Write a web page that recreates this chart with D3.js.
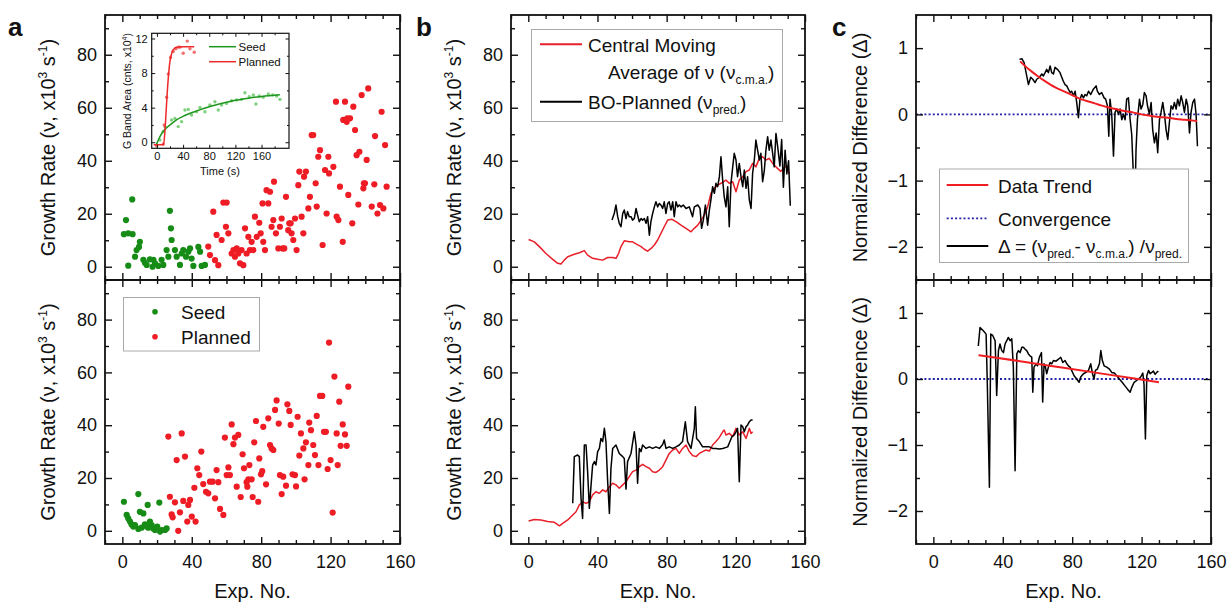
<!DOCTYPE html>
<html><head><meta charset="utf-8">
<script src="https://cdn.jsdelivr.net/npm/d3@7"></script>
<style>body{margin:0;background:#fff}svg{font-family:"Liberation Sans",Arial,sans-serif}</style>
</head><body>
<svg id="chart" width="1229" height="605"></svg>
<script>
// ---------------- DATA ----------------
const xTicks = [0, 40, 80, 120, 160];
const xMinor = [-10, 10, 20, 30, 50, 60, 70, 90, 100, 110, 130, 140, 150];
const growthTicks = [0, 20, 40, 60, 80];
const growthMinor = [10, 30, 50, 70, 90];
const deltaTicks = [-2, -1, 0, 1];
const deltaMinor = [-1.5, -0.5, 0.5];
const insetXTicks = [0, 40, 80, 120, 160];
const insetXMinor = [20, 60, 100, 140, 180];
const insetYTicks = [0, 4, 8, 12];
const insetYMinor = [2, 6, 10];

// panel a (top): growth rates, seed vs planned
const aTopSeed = [[5.7,25.4],[2.1,17.6],[0.9,12.3],[3.4,12.6],[5.9,12.3],[3.4,0.4],[10.1,9.4],[9.6,7.5],[7.3,3.8],[8.2,6.3],[12.1,2.6],[14,0.7],[15.9,2.8],[17.4,0],[18.8,1.3],[20.7,0.3],[22.6,2.6],[23.6,0.7],[25.5,6.3],[26.5,3.8],[27.4,21.1],[28,14.5],[28.4,10.1],[30.3,6.3],[31.3,3.8],[33.2,0.7],[34.2,5],[35.1,6.3],[36.7,3.8],[38,5.7],[39,6.9],[39.9,3.1],[40.9,0.3],[43.8,7.5],[44.8,5.7],[45.7,0.3],[47.6,0.7],[17.9,2.6],[13,1.5]];
const aTopPlanned = [[49.5,7.6],[50.5,4.4],[52.4,20.8],[53.4,2.5],[54.3,12],[55.3,0.6],[57.2,10.1],[58.2,24.2],[60.1,24.2],[59.7,15.1],[61.1,12.6],[63,5],[64,6.3],[64.9,3.8],[65.9,6.9],[66.8,5],[67.8,1.3],[68.7,6.3],[69.7,0.6],[70.7,14.5],[71.6,5],[72.6,11.3],[73.5,6.3],[74.5,9.4],[75.5,6.3],[76.4,18.9],[77.4,11.3],[78.9,16.6],[79.7,12.6],[80.8,23.9],[81.2,9.4],[82.2,6.3],[83.1,28.9],[84.1,23.9],[85.1,28.3],[86,15.1],[87,17.6],[87.4,32.1],[88.5,12.6],[89.9,6.9],[90.8,15.1],[91.8,18.2],[92.4,6.9],[93.3,6.9],[94.3,26.4],[95.6,13.8],[96.2,16.4],[97,16.4],[97.5,12.6],[98.5,10.1],[99.5,18.2],[100.4,6.3],[101.4,30.8],[102,35.9],[103.3,18.9],[104.3,12.6],[104.7,34],[105.8,35.9],[107.2,22],[108.1,26.4],[109.1,49.7],[110,49.7],[111.4,31.5],[112,22.7],[112.9,41.5],[113.9,44],[115.4,8.2],[116.8,36.5],[117.7,20.1],[118.7,41.5],[119.1,35.2],[121.6,37.7],[123.1,62.3],[123.5,18.9],[124.5,17.6],[125.4,30.2],[127,9.4],[127.3,55.4],[128.3,62.3],[129.3,54.7],[129.6,56],[130.2,27.1],[131.2,56],[132.5,16.4],[133.1,60.4],[134.1,51.6],[135,42.1],[136,23.5],[136.6,43.4],[137.9,64.8],[138.9,29.6],[139.2,31.5],[139.8,31.5],[140.8,40.3],[141.7,67.3],[143.7,22.7],[145.2,31.1],[145.6,49.3],[147,20.1],[148.5,23.3],[149.4,58.5],[150.4,22],[151.4,45.9],[152.3,30.2]];

// panel a (bottom)
const aBotSeed = [[0.9,11],[9.2,13.9],[14.6,9.8],[21.3,10.7],[10.1,7.2],[12.1,6.6],[2.5,6],[3.4,4.7],[4.4,3.5],[5.3,2.4],[6.3,1.6],[7.3,2.2],[9.2,0.7],[11.1,1.2],[13,2.4],[14,1.6],[15.9,3.5],[16.9,2.2],[17.8,0.9],[18.8,0.3],[20.1,1.6],[21.7,-0.3],[22.6,0.3],[24.6,0.3],[25.5,0.9],[15,1.2]];
const aBotPlanned = [[26.5,35.7],[34.2,36.9],[31.3,26.8],[36.1,28.1],[27.4,12.9],[30.3,10.8],[28.4,6.2],[29,5.1],[33.2,7],[35.1,11.3],[37.4,3.5],[38,9.8],[39,11.7],[40,5.4],[42.2,3.5],[32.2,0],[41.5,16.3],[43.2,23.7],[44.3,21.1],[45.5,30],[46.6,17.7],[48.2,14.8],[49.5,14.2],[50.5,18.6],[52,18.6],[53.4,12.3],[54.3,23],[55.3,18.4],[56.3,8.3],[58.2,6],[59.1,35.3],[60.1,21.1],[61.1,24],[62,21.1],[63,40.3],[64,32.8],[64.9,35.3],[66.8,36.3],[65.9,16.7],[68.2,12.8],[69.3,29],[70.1,23.7],[71.6,18.4],[72,16.7],[72.6,19.5],[73.2,24.9],[74.5,19.5],[75.1,12.8],[76,33.5],[77,41.6],[78.3,11],[78.9,27.4],[79.9,21.4],[80.6,22.6],[81.2,39.4],[82.8,17.6],[84.1,42.6],[85.1,32.5],[86,31.2],[87,30.6],[88,45.8],[88.9,49.4],[90.1,40.6],[90.8,21.1],[91.8,13.9],[92.7,20.5],[94.3,17.1],[95.1,47.9],[96.2,45.4],[97,40.1],[98.1,21.4],[99.5,21.1],[100.1,16.8],[101,43.2],[102,28.5],[102.9,36.9],[104.3,31.2],[105,19.5],[105.8,33.5],[107.2,24.9],[107.7,41],[108.7,38.1],[110,32.5],[111,28.7],[112,43.5],[113,24.9],[113.9,51.1],[115.2,51.1],[116.2,37.5],[117.3,37.5],[118.3,23.4],[119.1,71.3],[120,26.8],[121.2,6.9],[122.2,58.4],[123.5,36.9],[124.1,24.9],[125,48.9],[125.8,32.2],[127,40.3],[128.3,36.5],[129.3,32.2],[130.2,54.6]];

// inset: G band area vs time
const insetSeedPts = [[-0.5,-0.31],[4.6,0.27],[9.7,1.23],[12.2,1.81],[22.4,2.57],[27.5,2.76],[32.6,1.81],[37.7,2.38],[42.8,3.73],[47.9,3.8],[53,3.15],[60.6,3.53],[65.7,4.03],[73.4,3.53],[81,4.3],[88.7,4.69],[93.8,3.73],[98.9,4.3],[106.5,4.49],[114.2,4.8],[121.8,4.88],[129.5,4.96],[134.6,5.73],[141.2,5.27],[147.4,5.46],[151.4,4.42],[156.5,5.34],[162.6,5.19],[170.3,5.58],[176.9,5.46],[183.1,5.34],[188.2,4.96]];
const insetSeedFit = [[-1,-0.3],[5,0.7],[10,1.3],[20,2.0],[30,2.6],[40,3.0],[60,3.6],[80,4.1],[100,4.5],[120,4.85],[140,5.1],[160,5.3],[188,5.5]];
const insetPlannedPts = [[-0.5,-0.4],[9.7,-0.2],[11.2,2.0],[14.8,5.2],[17.3,7.9],[20.9,9.8],[25,10.5],[29,10.8],[32.6,11],[35.2,11],[40.2,10.3],[46.4,11.7],[50.5,10.8],[57.1,10.4]];
const insetPlannedFit = [[-5,-0.3],[10,-0.3],[12,1.0],[14,3.5],[16,6.0],[18,8.0],[20,9.4],[23,10.4],[26,10.8],[30,11.0],[40,11.05],[57,11.05]];

// panel b (top)
const bTopCma = [[0.2,10.3],[3.5,9.4],[6.4,7.6],[10.2,5],[14.1,2.8],[17,1.3],[18.9,1],[20.8,2.5],[22.8,3.8],[26.6,4.7],[29.5,5.3],[32.4,6.1],[34.3,4.4],[37.2,3.2],[40.1,2.8],[43,2.5],[45.9,3.5],[48.8,3.5],[50.7,3.2],[52.2,5],[53.6,7.6],[55.5,9.8],[58.4,9.4],[60.3,9.4],[62.3,8.6],[65.2,7.6],[67.1,6.6],[69,5.9],[71,6.9],[72.9,8.2],[74.8,10.1],[76.7,12.6],[78.6,15.1],[80.6,17.6],[83.1,17.9],[85.4,17],[88.3,15.7],[91.2,14.5],[94.1,13.2],[96,14.5],[98,15.7],[99.9,17.6],[101.8,19.5],[103.7,22.6],[105.6,27.7],[107.6,29.6],[109.5,30.8],[111.4,31.5],[114.3,32.7],[116.2,31.5],[118.2,32.1],[120.1,28.3],[122,32.7],[124,34],[125.9,35.9],[127.8,36.5],[129.7,39],[131.6,37.7],[133.6,40.9],[135.5,41.5],[137.4,40.3],[139.3,40.9],[141.3,39],[143.2,37.7],[146,36],[149,38],[151,35]];
const bTopPred = [[48.4,17.6],[49.7,20.1],[50.7,23.3],[51.7,18.9],[52.6,16.4],[53.6,15.1],[54.6,20.1],[55.5,21.4],[56.5,18.2],[57.4,20.8],[58.4,18.9],[59.4,18.9],[60.3,17.6],[61.3,18.2],[62.3,22],[63.2,19.5],[64.2,17],[65.2,18.2],[66.1,17.6],[67.1,18.2],[68.1,16.4],[69,18.9],[70,11.9],[70.9,17],[71.9,20.1],[72.9,22.6],[73.8,24.5],[74.8,22.6],[75.8,23.9],[76.7,23.3],[77.7,22],[78.6,24.5],[79.6,20.1],[80.6,23.9],[81.5,24.5],[82.5,21.4],[83.5,24.5],[84.4,18.9],[85.4,24.5],[86.4,22.6],[87.3,23.3],[88.3,22.6],[89.6,23.3],[91.2,22],[93.1,22.6],[95,18.9],[96,22.6],[98,23.3],[99.3,22],[100.2,14.5],[101.2,17.6],[102.4,23.3],[103.7,15.7],[104.7,21.4],[105.6,25.2],[106.6,30.2],[107.6,27.7],[108.5,31.5],[109.5,30.2],[110.5,34],[111.4,41.5],[112.4,32.7],[113.3,26.4],[114.3,22.6],[115.3,30.2],[116.2,15.1],[117.2,31.5],[118.2,37.7],[119.1,42.8],[120.1,40.3],[121,34],[122,39],[123,34],[124,30.2],[124.9,36.5],[125.9,29.6],[126.8,34],[127.8,25.2],[128.8,22],[129.7,35.2],[130.7,40.3],[131.6,47.8],[132.6,44],[133.6,40.3],[134.5,42.8],[135.5,32.1],[136.5,36.5],[137.4,44],[138.4,49.1],[139.3,44],[140.3,47.8],[141.3,42.8],[142.2,37.7],[143.2,50.3],[144.2,45.3],[145.5,38],[146.5,48],[147.5,30],[148.5,44],[149.5,35],[150.5,40],[151.5,23]];

// panel b (bottom)
const bBotCma = [[0.2,3.7],[3.5,4.3],[7.3,4.1],[11.2,3.5],[15.1,3.2],[18,1.9],[19.9,2.8],[22.8,4.1],[25.7,6],[27.6,7.2],[29.5,9.8],[31.4,11],[33.4,10.4],[35.3,11],[37.2,13.6],[39.1,14.8],[41.1,14.2],[43,15.5],[44.9,14.8],[46.9,16.7],[48.8,18],[50.7,17.4],[52.6,16.1],[54.6,17.4],[56.5,18.6],[58.4,20.5],[60.3,22.4],[62.3,23],[64.2,24.3],[66.1,25.2],[68.1,24.3],[70,23.7],[71.9,22.4],[73.8,22.1],[75.8,23],[77.7,24.3],[79.6,26.8],[81.5,29.3],[83.5,30.6],[85.4,31.2],[87.3,29.3],[89.2,31.2],[91.2,32.5],[93.1,30],[95,28.5],[97,28.1],[98.9,29.3],[100.8,30],[102.7,30.6],[104.7,30.2],[106.6,32.5],[108.5,33.8],[110.4,35.3],[112.4,37.5],[113.3,38.2],[114.3,36.3],[116.2,36.9],[118.2,35.7],[120.1,38.8],[122,36.3],[124,37.5],[125.9,35],[127.8,38.8],[128.8,36.9],[129.7,37.5]];
const bBotPred = [[25.7,10.4],[26.6,28.1],[28.5,28.7],[29.5,28.1],[30.5,12.3],[31.4,4.7],[32.4,32.5],[33.4,32.5],[34.3,22.4],[35.3,8.5],[36.3,17.4],[37.2,24.9],[38.2,26.2],[39.1,24.9],[40.1,30],[41.1,31.2],[42,35],[43,33.8],[44,38.8],[44.9,33.8],[45.9,18.6],[46.9,6.6],[47.8,23.7],[48.8,31.2],[50.7,32.5],[52.6,29.3],[54.6,28.1],[55.5,27.4],[56.5,15.8],[57.4,26.2],[59.4,29.3],[61.3,37.5],[62.3,32.5],[63.2,18],[64.2,31.2],[65.2,30],[66.1,32.5],[68.1,31.2],[70,31.8],[71.9,31.2],[73.8,31.8],[75.8,31.2],[77.7,32.7],[78.6,34.4],[79.6,31.2],[81.5,31.8],[83.5,31.2],[85.4,31.8],[87.3,32.5],[89.2,33.8],[90.8,41.3],[92.1,33.8],[94.1,31.2],[96,38.8],[96.6,47],[97.3,35],[98.9,33.8],[100.8,31.8],[102.7,31.8],[104.7,31.8],[106.6,31.2],[108.5,31.2],[110.4,31],[112.4,31.2],[115.3,31.8],[116.6,33.8],[117.8,35.7],[119.1,36.3],[120.1,37.5],[121,38.8],[122,18.6],[123,40.1],[124,39.4],[124.9,37.5],[125.9,39.4],[126.8,40.1],[127.8,41.3],[128.8,42],[129.7,42]];

// panel c (top): normalized difference
const cTopDelta = [[49.6,0.83],[51,0.84],[52.3,0.78],[53.8,0.58],[54.8,0.45],[56.1,0.56],[57.3,0.53],[58.6,0.48],[59.6,0.53],[61.1,0.56],[62.5,0.61],[63.4,0.58],[64.4,0.63],[65.3,0.68],[66.3,0.63],[67.3,0.73],[68.2,0.63],[69.2,0.61],[70.1,0.71],[71.5,0.68],[73,0.63],[74,0.56],[74.9,0.5],[75.9,0.45],[76.9,0.43],[77.8,0.38],[78.8,0.33],[79.7,0.35],[80.7,0.28],[81.7,0.35],[82.6,0.18],[83.6,-0.05],[84.5,0.23],[85.5,0.3],[86.5,0.25],[87.4,0.3],[88.4,0.28],[89.4,0.35],[90.7,0.3],[92.2,0.38],[93.8,0.43],[94.5,0.35],[95.7,0.3],[97,0.33],[98.4,0.25],[99.3,0.23],[100.3,0.13],[101.1,-0.33],[101.8,0.23],[102.8,0],[103.8,-0.63],[104.7,0.03],[105.7,0.08],[106.7,0],[107.6,0.08],[108.6,-0.08],[109.5,0],[110.5,-0.08],[111.4,0.23],[112.4,0.25],[113.4,-0.08],[114.3,-0.3],[115.3,-0.93],[116.3,-1.14],[116.8,-0.53],[117.6,-0.08],[118.8,0.23],[119.7,0.08],[120.7,0.15],[121.6,0.33],[122.6,0.28],[123.4,0.13],[124.5,0],[125.5,0.18],[126.4,-0.23],[127.4,-0.43],[128.4,-0.28],[129.3,-0.58],[130.3,-0.08],[131.2,0.03],[132.2,0.18],[133.2,0],[134.1,-0.23],[135.1,-0.38],[136,-0.13],[137,0.13],[138,0.08],[138.9,0.18],[139.9,0.08],[140.8,0.23],[141.8,0.13],[142.8,0.28],[143.7,0.18],[144.7,0.03],[145.7,0.23],[146.6,0.13],[147.6,-0.28],[148.5,0.03],[149.5,0.18],[150.5,0.23],[151.4,0],[152.2,-0.48]];
const cTopTrend = [[50,0.8],[55,0.68],[60,0.58],[65,0.49],[70,0.41],[75,0.35],[80,0.29],[85,0.23],[90,0.19],[95,0.15],[100,0.11],[105,0.08],[110,0.05],[115,0.03],[120,0],[125,-0.02],[130,-0.04],[135,-0.05],[140,-0.07],[145,-0.08],[152,-0.1]];

// panel c (bottom)
const cBotDelta = [[25.9,0.5],[26.9,0.78],[28.8,0.73],[30.4,0.68],[31.1,-0.08],[32.3,-1.64],[33.1,0.68],[34.2,0.66],[35.6,0.58],[36.5,-0.25],[37.5,0.43],[38.4,0.53],[39.4,0.43],[40.4,0.4],[41.3,0.53],[42.3,0.58],[43.2,0.63],[44.2,0.58],[45.2,0.61],[46.1,0.18],[47.1,-1.39],[48.1,0.38],[49,0.43],[50,0.4],[51,0.48],[51.9,0.48],[52.9,0.45],[53.8,0.43],[54.8,0.38],[55.7,0.35],[56.7,0.33],[57.3,-0.2],[58,0.18],[59.2,0.23],[60,0.2],[61.1,0.33],[62.3,0.4],[63,-0.35],[63.8,0.23],[64.6,0.18],[65.3,0.08],[66.3,0.18],[67.3,0.25],[68.2,0.23],[69.2,0.28],[70.7,0.27],[72.1,0.3],[73.4,0.33],[74.6,0.25],[75.9,0.28],[76.9,0.23],[77.8,0.2],[78.8,0.18],[79.7,0.13],[81.1,0.05],[82.6,0],[84,-0.05],[84.9,0.03],[86.5,0.08],[88,0.1],[89.4,0.13],[90.7,0.23],[91.7,0.08],[92.6,0],[93.4,0.13],[94.5,0.15],[95.7,0.23],[96.5,0.43],[97.4,0.28],[98.4,0.2],[99.9,0.18],[101.5,0.15],[102.8,0.1],[104.3,0.09],[105.7,0.05],[107.2,0],[108.8,-0.05],[110.3,-0.1],[111.8,-0.15],[113.4,-0.2],[114.3,-0.13],[115.7,-0.05],[116.8,-0.03],[118.2,0],[119.5,0.03],[120.7,0.09],[121.4,-0.08],[122.2,-0.91],[123,0.05],[124,0.13],[124.9,0.08],[125.9,0.1],[126.8,0.12],[127.8,0.07],[128.7,0.1],[129.7,0.12]];
const cBotTrend = [[26,0.36],[50,0.27],[75,0.17],[100,0.07],[130,-0.05]];
const convergence = [[-10,0],[160,0]];

// ---------------- STYLE ----------------
const GREEN = "#168c16", RED = "#ee1c25", REDLINE = "#e8202a", BLUE = "#2323a8", INK = "#111";
const svg = d3.select("#chart");
const FONT = '"Liberation Sans", Arial, sans-serif';

function axes(g, x, y, o) {
  const [x0, x1] = x.range(), [yb, yt] = y.range();
  const big = o.big || 7, small = o.small || 4, fs = o.fs || 18;
  const style = sel => sel.call(s => s.select(".domain").remove())
    .attr("font-family", FONT).attr("font-size", fs)
    .call(s => s.selectAll("line").attr("stroke", INK).attr("stroke-width", o.tw || 1.4))
    .call(s => s.selectAll("text").attr("fill", INK));
  // bottom
  g.append("g").attr("transform", `translate(0,${yb})`)
    .call(d3.axisBottom(x).tickValues(o.xMajor).tickSize(-big).tickPadding(o.xpad || 11)
      .tickFormat(o.xLabels ? d3.format("d") : () => "")).call(style);
  g.append("g").attr("transform", `translate(0,${yb})`)
    .call(d3.axisBottom(x).tickValues(o.xMinor).tickSize(-small).tickFormat(() => "")).call(style);
  // top
  g.append("g").attr("transform", `translate(0,${yt})`)
    .call(d3.axisTop(x).tickValues(o.xMajor).tickSize(-big).tickFormat(() => "")).call(style);
  g.append("g").attr("transform", `translate(0,${yt})`)
    .call(d3.axisTop(x).tickValues(o.xMinor).tickSize(-small).tickFormat(() => "")).call(style);
  // left
  g.append("g").attr("transform", `translate(${x0},0)`)
    .call(d3.axisLeft(y).tickValues(o.yMajor).tickSize(-big).tickPadding(o.ypad || 8)
      .tickFormat(o.yFmt || d3.format("d"))).call(style);
  g.append("g").attr("transform", `translate(${x0},0)`)
    .call(d3.axisLeft(y).tickValues(o.yMinor).tickSize(-small).tickFormat(() => "")).call(style);
  // right
  g.append("g").attr("transform", `translate(${x1},0)`)
    .call(d3.axisRight(y).tickValues(o.yMajor).tickSize(-big).tickFormat(() => "")).call(style);
  g.append("g").attr("transform", `translate(${x1},0)`)
    .call(d3.axisRight(y).tickValues(o.yMinor).tickSize(-small).tickFormat(() => "")).call(style);
  g.append("rect").attr("x", x0).attr("y", yt).attr("width", x1 - x0).attr("height", yb - yt)
    .attr("fill", "none").attr("stroke", INK).attr("stroke-width", o.fw || 1.8);
}

function dots(g, x, y, data, color, r) {
  g.append("g").selectAll("circle").data(data).join("circle")
    .attr("cx", d => x(d[0])).attr("cy", d => y(d[1])).attr("r", r || 3.1).attr("fill", color);
}
function path(g, x, y, data, color, w, curve, dash) {
  const line = d3.line().x(d => x(d[0])).y(d => y(d[1])).curve(curve || d3.curveLinear);
  const p = g.append("path").attr("d", line(data)).attr("fill", "none").attr("stroke", color)
    .attr("stroke-width", w).attr("stroke-linejoin", "round");
  if (dash) p.attr("stroke-dasharray", dash);
  return p;
}

function growthTitle(cx, cy) {
  const t = svg.append("text").attr("transform", `translate(${cx},${cy}) rotate(-90)`)
    .attr("text-anchor", "middle").attr("font-size", 20).attr("font-family", FONT).attr("fill", INK);
  t.append("tspan").text("Growth Rate (ν, x10");
  t.append("tspan").attr("dy", -8).attr("font-size", 12).text("3");
  t.append("tspan").attr("dy", 8).text(" s");
  t.append("tspan").attr("dy", -8).attr("font-size", 12).text("-1");
  t.append("tspan").attr("dy", 8).text(")");
}
function vTitle(cx, cy, txt) {
  svg.append("text").attr("transform", `translate(${cx},${cy}) rotate(-90)`)
    .attr("text-anchor", "middle").attr("font-size", 20).attr("font-family", FONT).attr("fill", INK).text(txt);
}
function xTitle(cx) {
  svg.append("text").attr("x", cx).attr("y", 598).attr("text-anchor", "middle")
    .attr("font-size", 20).attr("font-family", FONT).attr("fill", INK).text("Exp. No.");
}
function letter(x, t) {
  svg.append("text").attr("x", x).attr("y", 36).attr("font-size", 26).attr("font-weight", "bold")
    .attr("font-family", FONT).attr("fill", INK).text(t);
}
function legendText(g, x, y, parts, fs) {
  const t = g.append("text").attr("x", x).attr("y", y).attr("font-size", fs).attr("font-family", FONT).attr("fill", INK);
  let shift = 0;
  parts.forEach(p => {
    const sub = typeof p !== "string";
    const txt = sub ? p.sub : p;
    const dy = sub ? 5 - shift : -shift;
    shift = sub ? 5 : 0;
    t.append("tspan").attr("dy", dy).attr("font-size", sub ? 12 : fs).text(txt);
  });
  return t;
}

const TOP = [280, 15], BOT = [544, 280];

// ---------------- PANEL A ----------------
const xa = d3.scaleLinear().domain([-10, 160]).range([105, 400]);
const yaT = d3.scaleLinear().domain([-5, 95]).range(TOP);
const yaB = d3.scaleLinear().domain([-5, 95]).range(BOT);
const gaT = svg.append("g"), gaB = svg.append("g");
dots(gaT, xa, yaT, aTopSeed, GREEN);
dots(gaT, xa, yaT, aTopPlanned, RED);
dots(gaB, xa, yaB, aBotSeed, GREEN);
dots(gaB, xa, yaB, aBotPlanned, RED);
axes(gaT, xa, yaT, {xMajor: xTicks, xMinor: xMinor, yMajor: growthTicks, yMinor: growthMinor, xLabels: false});
axes(gaB, xa, yaB, {xMajor: xTicks, xMinor: xMinor, yMajor: growthTicks, yMinor: growthMinor, xLabels: true});

// legend a bottom
const lgA = svg.append("g");
lgA.append("rect").attr("x", 123.5).attr("y", 297.5).attr("width", 136).attr("height", 53.5)
  .attr("fill", "#fff").attr("stroke", "#aaa").attr("stroke-width", 1);
lgA.append("circle").attr("cx", 155).attr("cy", 311.7).attr("r", 2.8).attr("fill", GREEN);
lgA.append("circle").attr("cx", 155).attr("cy", 336.7).attr("r", 2.8).attr("fill", RED);
legendText(lgA, 181, 318.5, ["Seed"], 19);
legendText(lgA, 181, 343.5, ["Planned"], 19);

// inset
const xi = d3.scaleLinear().domain([-8, 202]).range([151.7, 289]);
const yi = d3.scaleLinear().domain([-0.7, 12.6]).range([148.3, 33.3]);
const gi = svg.append("g");
gi.append("rect").attr("x", 151.7).attr("y", 33.3).attr("width", 137.3).attr("height", 115).attr("fill", "#fff");
dots(gi, xi, yi, insetSeedPts, "#7fd07f", 1.7);
dots(gi, xi, yi, insetPlannedPts, "#f07070", 1.7);
path(gi, xi, yi, insetSeedFit, "#1e961e", 1.5, d3.curveMonotoneX);
path(gi, xi, yi, insetPlannedFit, "#ee2a2a", 1.5, d3.curveMonotoneX);
axes(gi, xi, yi, {xMajor: insetXTicks, xMinor: insetXMinor, yMajor: insetYTicks, yMinor: insetYMinor,
  xLabels: true, big: 3.5, small: 2, fs: 11, xpad: 4, ypad: 4, tw: 1, fw: 1.2});
gi.append("line").attr("x1", 209).attr("x2", 236).attr("y1", 46.7).attr("y2", 46.7).attr("stroke", "#1e961e").attr("stroke-width", 1.5);
gi.append("line").attr("x1", 209).attr("x2", 236).attr("y1", 61.7).attr("y2", 61.7).attr("stroke", "#ee2a2a").attr("stroke-width", 1.5);
legendText(gi, 238.5, 51, ["Seed"], 11.5);
legendText(gi, 238.5, 66, ["Planned"], 11.5);
gi.append("text").attr("x", 220).attr("y", 175).attr("text-anchor", "middle").attr("font-size", 11)
  .attr("font-family", FONT).attr("fill", INK).text("Time (s)");
const it = gi.append("text").attr("transform", "translate(131,91) rotate(-90)").attr("text-anchor", "middle")
  .attr("font-size", 10.5).attr("font-family", FONT).attr("fill", INK);
it.append("tspan").text("G Band Area (cnts, x10");
it.append("tspan").attr("dy", -4).attr("font-size", 7).text("4");
it.append("tspan").attr("dy", 4).text(")");

// ---------------- PANEL B ----------------
const xb = d3.scaleLinear().domain([-10, 160]).range([511, 805]);
const ybT = d3.scaleLinear().domain([-5, 95]).range(TOP);
const ybB = d3.scaleLinear().domain([-5, 95]).range(BOT);
const gbT = svg.append("g"), gbB = svg.append("g");
path(gbT, xb, ybT, bTopCma, REDLINE, 1.5);
path(gbT, xb, ybT, bTopPred, "#000", 1.5);
path(gbB, xb, ybB, bBotCma, REDLINE, 1.5);
path(gbB, xb, ybB, bBotPred, "#000", 1.5);
axes(gbT, xb, ybT, {xMajor: xTicks, xMinor: xMinor, yMajor: growthTicks, yMinor: growthMinor, xLabels: false});
axes(gbB, xb, ybB, {xMajor: xTicks, xMinor: xMinor, yMajor: growthTicks, yMinor: growthMinor, xLabels: true});

const lgB = svg.append("g");
lgB.append("rect").attr("x", 531.5).attr("y", 29.5).attr("width", 251).attr("height", 92)
  .attr("fill", "#fff").attr("stroke", "#aaa").attr("stroke-width", 1);
lgB.append("line").attr("x1", 540).attr("x2", 582).attr("y1", 44.3).attr("y2", 44.3).attr("stroke", REDLINE).attr("stroke-width", 2);
lgB.append("line").attr("x1", 540).attr("x2", 582).attr("y1", 101.7).attr("y2", 101.7).attr("stroke", "#000").attr("stroke-width", 2);
legendText(lgB, 588, 51.5, ["Central Moving"], 19);
legendText(lgB, 608, 79, ["Average of ν (ν", {sub: "c.m.a."}, ")"], 19);
legendText(lgB, 588, 108.5, ["BO-Planned (ν", {sub: "pred."}, ")"], 19);

// ---------------- PANEL C ----------------
const xc = d3.scaleLinear().domain([-10, 160]).range([916, 1211]);
const ycT = d3.scaleLinear().domain([-2.5, 1.5]).range(TOP);
const ycB = d3.scaleLinear().domain([-2.5, 1.5]).range(BOT);
const gcT = svg.append("g"), gcB = svg.append("g");
path(gcT, xc, ycT, convergence, BLUE, 1.8, null, "2,2.2");
path(gcT, xc, ycT, cTopDelta, "#000", 1.5);
path(gcT, xc, ycT, cTopTrend, "#f01e22", 2, d3.curveMonotoneX);
path(gcB, xc, ycB, convergence, BLUE, 1.8, null, "2,2.2");
path(gcB, xc, ycB, cBotDelta, "#000", 1.5);
path(gcB, xc, ycB, cBotTrend, "#f01e22", 2, d3.curveMonotoneX);
axes(gcT, xc, ycT, {xMajor: xTicks, xMinor: xMinor, yMajor: deltaTicks, yMinor: deltaMinor, xLabels: false});
axes(gcB, xc, ycB, {xMajor: xTicks, xMinor: xMinor, yMajor: deltaTicks, yMinor: deltaMinor, xLabels: true});

const lgC = svg.append("g");
lgC.append("rect").attr("x", 939.5).attr("y", 169).attr("width", 249).attr("height", 93.5)
  .attr("fill", "#fff").attr("stroke", "#aaa").attr("stroke-width", 1);
lgC.append("line").attr("x1", 946.7).attr("x2", 988.3).attr("y1", 185).attr("y2", 185).attr("stroke", "#f01e22").attr("stroke-width", 2);
lgC.append("line").attr("x1", 946.7).attr("x2", 988.3).attr("y1", 218.3).attr("y2", 218.3).attr("stroke", BLUE).attr("stroke-width", 1.8).attr("stroke-dasharray", "2,2.2");
lgC.append("line").attr("x1", 946.7).attr("x2", 988.3).attr("y1", 246).attr("y2", 246).attr("stroke", "#000").attr("stroke-width", 2);
legendText(lgC, 998, 192.5, ["Data Trend"], 19);
legendText(lgC, 998, 226, ["Convergence"], 19);
legendText(lgC, 998, 253, ["Δ = (ν", {sub: "pred."}, "- ν", {sub: "c.m.a."}, ") /ν", {sub: "pred."}], 19);

// ---------------- TITLES ----------------
growthTitle(55, 147.5);
growthTitle(55, 412);
growthTitle(461, 147.5);
growthTitle(461, 412);
vTitle(867, 147.5, "Normalized Difference (Δ)");
vTitle(867, 412, "Normalized Difference (Δ)");
xTitle(252.5); xTitle(658); xTitle(1063.5);
letter(8, "a"); letter(416, "b"); letter(832, "c");
</script>
</body></html>
